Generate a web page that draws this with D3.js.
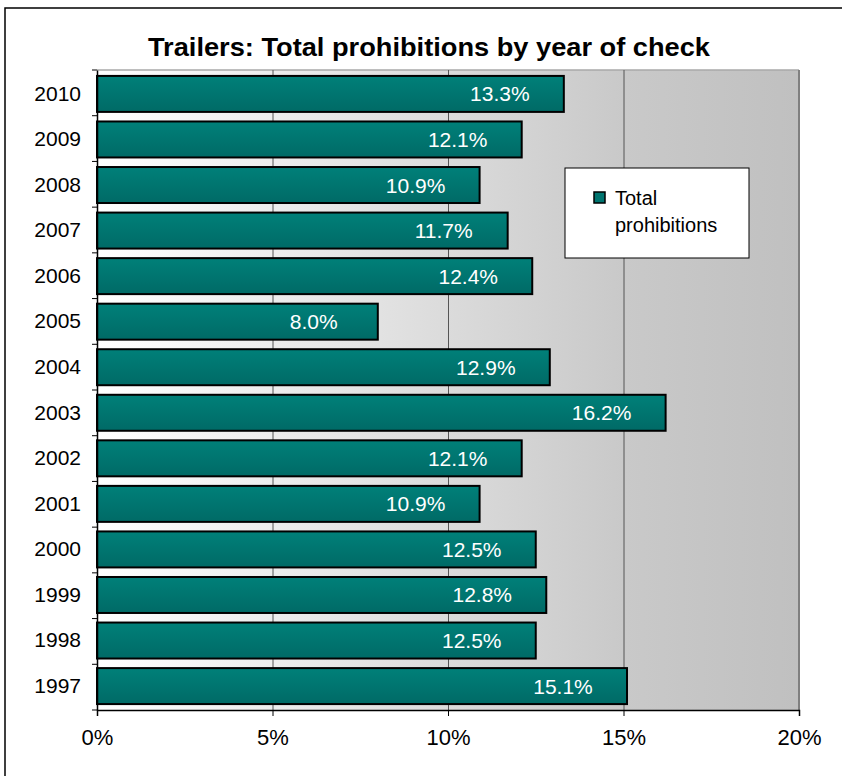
<!DOCTYPE html>
<html>
    <head>
        <style>
            body { margin: 0; background: white; }
            text { font-family: "Liberation Sans", Arial, sans-serif; }
            .frame { fill: white; stroke: black; stroke-width: 1.5; }
            .grid { stroke: #555; stroke-width: 1; }
            .bar { stroke: black; stroke-width: 2; }
        </style>
    </head>
    <body>
        <div id="chart"></div>
        <script src="https://cdn.jsdelivr.net/npm/d3@7"></script>
        <script>

//////////////////// data ////////////////////
let years = ['2010', '2009', '2008', '2007', '2006', '2005', '2004', '2003', '2002', '2001', '2000', '1999', '1998', '1997'];
let prohibitions = [13.3, 12.1, 10.9, 11.7, 12.4, 8.0, 12.9, 16.2, 12.1, 10.9, 12.5, 12.8, 12.5, 15.1];
let xTicks = [0, 5, 10, 15, 20];
let titre = 'Trailers: Total prohibitions by year of check';
let legendLines = ['Total', 'prohibitions'];

//////////////////// layout ////////////////////
let W = 842, H = 776;
let plot = {left: 97, top: 70, right: 799, bottom: 710};

let svg = d3.select('#chart').append('svg')
    .attr('width', W)
    .attr('height', H);

let defs = svg.append('defs');
let bg = defs.append('linearGradient').attr('id', 'bg').attr('x1', 0).attr('x2', 1).attr('y1', 0).attr('y2', 0);
bg.append('stop').attr('offset', 0).attr('stop-color', '#ffffff');
bg.append('stop').attr('offset', 0.75).attr('stop-color', '#c9c9c9');
bg.append('stop').attr('offset', 1).attr('stop-color', '#c0c0c0');

let barGrad = defs.append('linearGradient').attr('id', 'barGrad').attr('x1', 0).attr('x2', 0).attr('y1', 0).attr('y2', 1);
barGrad.append('stop').attr('offset', 0).attr('stop-color', '#008079');
barGrad.append('stop').attr('offset', 1).attr('stop-color', '#006a66');

// cadre
svg.append('rect')
    .classed('frame', true)
    .attr('x', 5)
    .attr('y', 8)
    .attr('width', W)
    .attr('height', H);

// titre
svg.append('text')
    .attr('x', 429)
    .attr('y', 56)
    .attr('text-anchor', 'middle')
    .attr('font-size', 26)
    .attr('font-weight', 'bold')
    .attr('textLength', 562)
    .attr('lengthAdjust', 'spacingAndGlyphs')
    .text(titre);

//////////////////// scales ////////////////////
let x = d3.scaleLinear().domain([0, 20]).range([plot.left, plot.right]);
let y = d3.scaleBand().domain(years).range([plot.top, plot.bottom])
    .paddingInner(0.21)
    .paddingOuter(0.13);

// fond
svg.append('rect')
    .attr('x', plot.left)
    .attr('y', plot.top)
    .attr('width', plot.right - plot.left)
    .attr('height', plot.bottom - plot.top)
    .attr('fill', 'url(#bg)');

svg.append('path')
    .attr('d', `M ${plot.left} ${plot.top} L ${plot.right} ${plot.top}`)
    .attr('stroke', '#a8a8a8')
    .attr('stroke-width', 1.5);
svg.append('path')
    .attr('d', `M ${plot.right} ${plot.top} L ${plot.right} ${plot.bottom}`)
    .attr('stroke', '#808080')
    .attr('stroke-width', 2);

// grille
svg.append('g').selectAll('line')
    .data(xTicks.filter(d => d > 0 && d < 20))
    .join('line')
    .classed('grid', true)
    .attr('x1', d => x(d) + 0.5)
    .attr('x2', d => x(d) + 0.5)
    .attr('y1', plot.top)
    .attr('y2', plot.bottom);

//////////////////// barres ////////////////////
let rows = years.map((yr, i) => ({year: yr, value: prohibitions[i]}));

svg.append('g').selectAll('rect')
    .data(rows)
    .join('rect')
    .classed('bar', true)
    .attr('x', x(0))
    .attr('y', d => y(d.year))
    .attr('width', d => x(d.value) - x(0))
    .attr('height', y.bandwidth())
    .attr('fill', 'url(#barGrad)');

svg.append('g').selectAll('text')
    .data(rows)
    .join('text')
    .attr('x', d => x(d.value) - 64)
    .attr('y', d => y(d.year) + y.bandwidth() / 2 + 7.5)
    .attr('text-anchor', 'middle')
    .attr('font-size', 21)
    .attr('fill', 'white')
    .text(d => d.value.toFixed(1) + '%');

//////////////////// axes ////////////////////
let xAxis = d3.axisBottom(x)
    .tickValues(xTicks)
    .tickSize(6)
    .tickPadding(13)
    .tickFormat(d => d + '%');
let gx = svg.append('g')
    .attr('transform', `translate(0, ${plot.bottom})`)
    .call(xAxis);
gx.select('.domain').attr('stroke', 'black').attr('stroke-width', 1.5);
gx.selectAll('.tick line').attr('stroke', 'black');
gx.selectAll('.tick text')
    .attr('font-size', 22)
    .attr('font-family', '"Liberation Sans", Arial, sans-serif')
    .attr('fill', 'black');

let yAxis = d3.axisLeft(y).tickSize(0).tickPadding(16);
let gy = svg.append('g')
    .attr('transform', `translate(${plot.left}, 0)`)
    .call(yAxis);
gy.select('.domain').attr('stroke', 'black').attr('stroke-width', 1.5);
gy.selectAll('.tick text')
    .attr('font-size', 21)
    .attr('font-family', '"Liberation Sans", Arial, sans-serif')
    .attr('fill', 'black');

// petites graduations entre les annees
let bounds = d3.range(years.length + 1).map(i => plot.top + i * (plot.bottom - plot.top) / years.length);
gy.append('g').selectAll('line')
    .data(bounds)
    .join('line')
    .attr('x1', -5)
    .attr('x2', 0)
    .attr('y1', d => d)
    .attr('y2', d => d)
    .attr('stroke', 'black');

//////////////////// legende ////////////////////
let legend = svg.append('g').attr('transform', 'translate(565, 168)');
legend.append('rect')
    .attr('width', 184)
    .attr('height', 90)
    .attr('fill', 'white')
    .attr('stroke', 'black')
    .attr('stroke-width', 1);
legend.append('rect')
    .attr('x', 29)
    .attr('y', 24)
    .attr('width', 11)
    .attr('height', 11)
    .attr('fill', '#00746f')
    .attr('stroke', 'black')
    .attr('stroke-width', 1.5);
legend.selectAll('text.leg')
    .data(legendLines)
    .join('text')
    .classed('leg', true)
    .attr('x', 50)
    .attr('y', (d, i) => 37 + i * 27)
    .attr('font-size', 20)
    .text(d => d);

        </script>
    </body>
</html>
